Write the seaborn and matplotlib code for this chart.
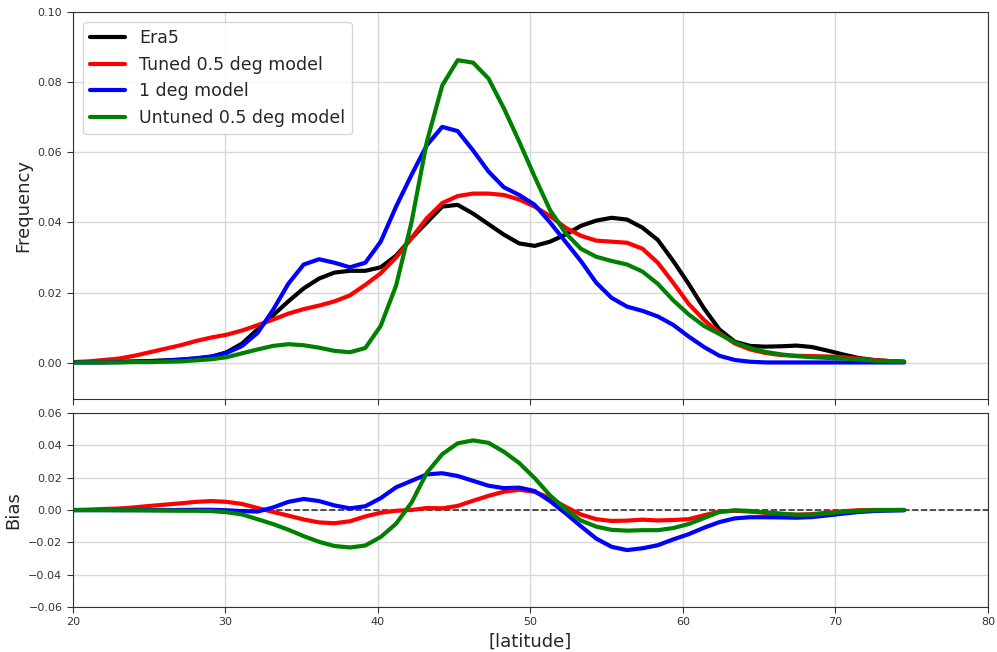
import numpy as np
import pandas as pd
import matplotlib
matplotlib.use("Agg")
import matplotlib.pyplot as plt
import seaborn as sns

# latitude grid (20 .. 74.5)
lat = np.linspace(20, 74.5, 55)

era5 = [0.0002, 0.0002, 0.0002, 0.0003, 0.0004, 0.0005, 0.0007, 0.0009, 0.0012, 0.0017,
        0.0030, 0.0055, 0.0095, 0.0135, 0.0175, 0.0212, 0.0240, 0.0257, 0.0262, 0.0262,
        0.0272, 0.0305, 0.0355, 0.0400, 0.0445, 0.0450, 0.0425, 0.0395, 0.0365, 0.0340,
        0.0333, 0.0345, 0.0365, 0.0390, 0.0405, 0.0413, 0.0408, 0.0385, 0.0350, 0.0290,
        0.0225, 0.0155, 0.0095, 0.0060, 0.0048, 0.0046, 0.0047, 0.0049, 0.0045, 0.0035,
        0.0024, 0.0014, 0.0008, 0.0005, 0.0003]

tuned = [0.0002, 0.0004, 0.0008, 0.0012, 0.0020, 0.0030, 0.0040, 0.0050, 0.0062, 0.0072,
         0.0080, 0.0092, 0.0107, 0.0123, 0.0140, 0.0153, 0.0163, 0.0175, 0.0192, 0.0222,
         0.0255, 0.0300, 0.0355, 0.0412, 0.0455, 0.0475, 0.0482, 0.0482, 0.0478, 0.0465,
         0.0445, 0.0418, 0.0385, 0.0362, 0.0348, 0.0345, 0.0342, 0.0325, 0.0285, 0.0228,
         0.0168, 0.0122, 0.0085, 0.0055, 0.0038, 0.0028, 0.0022, 0.0020, 0.0019, 0.0018,
         0.0016, 0.0012, 0.0008, 0.0005, 0.0003]

one_deg = [0.0001, 0.0001, 0.0001, 0.0002, 0.0003, 0.0004, 0.0006, 0.0009, 0.0013, 0.0018,
           0.0028, 0.0048, 0.0085, 0.0150, 0.0225, 0.0280, 0.0295, 0.0285, 0.0272, 0.0285,
           0.0345, 0.0445, 0.0535, 0.0620, 0.0672, 0.0660, 0.0605, 0.0545, 0.0500, 0.0478,
           0.0450, 0.0400, 0.0345, 0.0290, 0.0228, 0.0185, 0.0160, 0.0148, 0.0132, 0.0108,
           0.0075, 0.0045, 0.0020, 0.0008, 0.0003, 0.0001, 0.0001, 0.0001, 0.0001, 0.0001,
           0.0001, 0.0001, 0.0001, 0.0001, 0.0001]

untuned = [0.0001, 0.0001, 0.0001, 0.0001, 0.0002, 0.0002, 0.0003, 0.0004, 0.0007, 0.0010,
           0.0016, 0.0027, 0.0038, 0.0048, 0.0053, 0.0050, 0.0043, 0.0034, 0.0030, 0.0042,
           0.0105, 0.0220, 0.0400, 0.0630, 0.0790, 0.0862, 0.0855, 0.0810, 0.0725, 0.0630,
           0.0530, 0.0435, 0.0370, 0.0325, 0.0302, 0.0290, 0.0280, 0.0260, 0.0225, 0.0178,
           0.0138, 0.0105, 0.0082, 0.0058, 0.0042, 0.0031, 0.0024, 0.0019, 0.0016, 0.0014,
           0.0012, 0.0009, 0.0006, 0.0004, 0.0003]

names = ["Era5", "Tuned 0.5 deg model", "1 deg model", "Untuned 0.5 deg model"]
colors = {"Era5": "black", "Tuned 0.5 deg model": "red",
          "1 deg model": "blue", "Untuned 0.5 deg model": "green"}

sns.set_style("ticks", {"axes.grid": True, "grid.color": "#d8d8d8",
                        "axes.edgecolor": "#333333"})
plt.rcParams['font.family'] = ['DejaVu Sans']

freq = pd.DataFrame({"lat": np.tile(lat, 4),
                     "value": np.concatenate([era5, tuned, one_deg, untuned]),
                     "model": np.repeat(names, len(lat))})

# bias = model minus Era5
ref = np.array(era5)
bias = pd.DataFrame({"lat": np.tile(lat, 3),
                     "value": np.concatenate([np.array(tuned) - ref,
                                              np.array(one_deg) - ref,
                                              np.array(untuned) - ref]),
                     "model": np.repeat(names[1:], len(lat))})

fig, (ax1, ax2) = plt.subplots(2, 1, figsize=(9.97, 6.52), dpi=100, sharex=True,
                               gridspec_kw={"height_ratios": [387, 194], "hspace": 0.048})
fig.subplots_adjust(left=0.073, right=0.991, top=0.982, bottom=0.069)

sns.lineplot(data=freq, x="lat", y="value", hue="model", palette=colors,
             hue_order=names, linewidth=3, ax=ax1)
ax1.set_ylim(-0.0103, 0.10)
ax1.set_yticks(np.arange(0, 0.101, 0.02))
ax1.set_ylabel("Frequency", fontsize=13)
ax1.set_xlabel("")
ax1.tick_params(labelbottom=False)
leg = ax1.legend(loc="upper left", fontsize=12.5, framealpha=0.8, handlelength=2,
                 borderaxespad=0.6)
for l in leg.get_lines():
    l.set_linewidth(3)

ax2.axhline(0, color="#333333", linestyle="--", linewidth=1.2)
sns.lineplot(data=bias, x="lat", y="value", hue="model", palette=colors,
             hue_order=names[1:], linewidth=3, ax=ax2, legend=False)
ax2.set_ylim(-0.06, 0.06)
ax2.set_yticks(np.arange(-0.06, 0.061, 0.02))
ax2.set_xlim(20, 80)
ax2.set_ylabel("Bias", fontsize=13)
ax2.set_xlabel("[latitude]", fontsize=13, labelpad=4)

for ax in (ax1, ax2):
    ax.tick_params(labelsize=8, colors="#333333", labelcolor="#333333", direction="out", length=4)
    ax.set_yticklabels([f"{t:.2f}".replace("-", "\u2212") for t in ax.get_yticks()])
    ax.grid(True, color="#d8d8d8", linewidth=1)

fig.savefig("out.png", dpi=100)
